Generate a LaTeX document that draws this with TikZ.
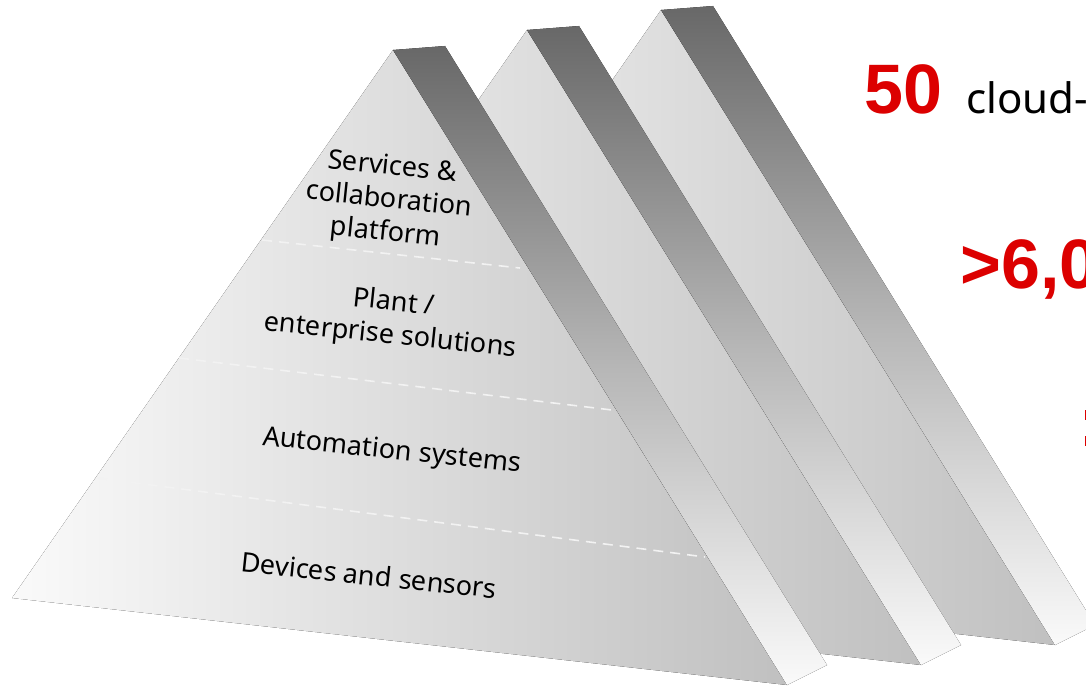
\documentclass[tikz,border=0pt]{standalone}
\usepackage{fontspec}
\setmainfont{Noto Sans}
\newfontfamily\numfont{Liberation Sans}
\begin{document}
\begin{tikzpicture}[x=1pt,y=-1pt]
\definecolor{abbred}{RGB}{220,0,0}
\definecolor{faceL}{RGB}{250,250,250}
\definecolor{faceR}{RGB}{192,192,192}
\definecolor{sideT}{RGB}{104,104,104}
\definecolor{sideM}{RGB}{182,182,182}
\definecolor{sideB}{RGB}{250,250,250}
\definecolor{dashcol}{RGB}{242,242,242}
\tikzset{
  frontface/.style={left color=faceL, right color=faceR, draw=none},
  sideface/.style={top color=sideT, bottom color=sideB, middle color=sideM, draw=none},
  layerline/.style={draw=dashcol, line width=1.6pt, dash pattern=on 10pt off 7pt},
  layerlabel/.style={font=\fontsize{27}{33}\selectfont, align=center, rotate=-6, text=black},
  bignum/.style={anchor=base west, text=abbred, font=\numfont\bfseries\fontsize{70}{70}\selectfont, inner sep=0pt},
  bigword/.style={anchor=base west, text=black, font=\fontsize{42}{42}\selectfont, inner sep=0pt},
}
\useasboundingbox (0,0) rectangle (1086,687);
\clip (0,0) rectangle (1086,687);
\fill[white] (0,0) rectangle (1086,687);
\foreach \k in {2,1,0} {
  \begin{scope}[shift={(134*\k,-20*\k)}]
    \fill[frontface] (393,50) -- (12,598) -- (787,685) -- cycle;
    \fill[sideface] (393,50) -- (445,46) -- (827,665) -- (787,685) -- cycle;
  \end{scope}
}
\draw[layerline] (262,240) -- (520,268);
\draw[layerline] (179,358) -- (612,410);
\draw[layerline] (97,478) -- (705,557);
\node[layerlabel] (services) at (389,201) {Services \&\\collaboration\\platform};
\node[layerlabel] (plant) at (392,320) {Plant /\\enterprise solutions};
\node[layerlabel] (automation) at (392,452) {Automation systems};
\node[layerlabel] (devices) at (369,575) {Devices and sensors};
\node[bignum] (fifty) at (864,114) {50};
\node[bigword] (cloud) at (966,114) {cloud-};
\node[bignum] (sixk) at (960,288) {>6,0};
\fill[abbred] (1084.5,410) rectangle (1086,420);
\fill[abbred] (1084.5,436) rectangle (1086,446);
\end{tikzpicture}
\end{document}
